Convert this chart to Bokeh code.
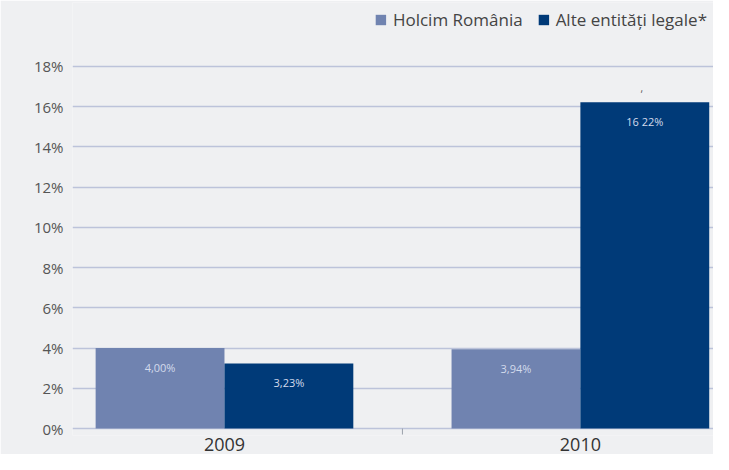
from bokeh.plotting import figure
from bokeh.models import ColumnDataSource, Range1d, FixedTicker, Legend, LegendItem
from bokeh.core.properties import value
from bokeh.embed import file_html
from bokeh.resources import INLINE

years = ["2009", "2010"]
holcim = [4.00, 3.94]
alte = [3.23, 16.22]
holcim_labels = ["4,00%", "3,94%"]
alte_labels = ["3,23%", "16 22%"]
y_ticks = [0, 2, 4, 6, 8, 10, 12, 14, 16, 18]
series_names = ["Holcim România", "Alte entități legale*"]

BG = "#eff0f2"
C1 = "#7083b0"
C2 = "#003a78"
GRID = "#bcc3da"
FONT = "Open Sans"

bw = 0.362
centers = [i + 0.5 for i in range(len(years))]
src = ColumnDataSource(dict(x1=[c - bw / 2 for c in centers],
                            x2=[c + bw / 2 for c in centers],
                            holcim=holcim, alte=alte,
                            hl=holcim_labels, al=alte_labels))

p = figure(width=713, height=454, output_backend="svg", toolbar_location=None,
           x_range=Range1d(0.073, 1.874),
           y_range=Range1d(-0.348, 21.18),
           background_fill_color=BG, border_fill_color=BG,
           min_border_left=72, min_border_right=0, min_border_top=2, min_border_bottom=19)
p.outline_line_color = None

r1 = p.vbar(x="x1", top="holcim", bottom=0, width=bw,
            source=src, fill_color=C1, line_color=None)
r2 = p.vbar(x="x2", top="alte", bottom=0, width=bw,
            source=src, fill_color=C2, line_color=None)

p.text(x="x1", y="holcim", text="hl", source=src,
       text_align="center", text_baseline="middle", y_offset=19,
       text_font=value(FONT), text_font_size="11px", text_color="#d3dbec")
p.text(x="x2", y="alte", text="al", source=src,
       text_align="center", text_baseline="middle", y_offset=19,
       text_font=value(FONT), text_font_size="11px", text_color="#d3dbec")

# stray comma printed above the 2010 bar in the original
p.text(x=[centers[1] + bw / 2], y=[alte[1]], text=[","], text_align="center",
       text_baseline="middle", x_offset=-3, y_offset=-14, text_font=value(FONT),
       text_font_size="10px", text_color="#555555")

# separator tick between categories
p.segment(x0=[1.0], y0=[0], x1=[1.0], y1=[-0.3], line_color="#9aa0aa", line_width=1)

p.xgrid.grid_line_color = None
p.ygrid.ticker = FixedTicker(ticks=y_ticks)
p.ygrid.grid_line_color = GRID
p.ygrid.grid_line_width = 1.6

p.yaxis.ticker = FixedTicker(ticks=y_ticks)
p.yaxis.major_label_overrides = {t: f"{t}%" for t in y_ticks}
p.yaxis.axis_line_color = None
p.yaxis.major_tick_line_color = None
p.yaxis.minor_tick_line_color = None
p.yaxis.major_tick_out = 0
p.yaxis.major_tick_in = 0
p.yaxis.major_label_standoff = 9
p.yaxis.major_label_text_font = FONT
p.yaxis.major_label_text_font_size = "15px"
p.yaxis.major_label_text_color = "#555555"

p.xaxis.ticker = FixedTicker(ticks=centers)
p.xaxis.major_label_overrides = {c: y for c, y in zip(centers, years)}
p.xaxis.axis_line_color = None
p.xaxis.major_tick_line_color = None
p.xaxis.minor_tick_line_color = None
p.xaxis.major_tick_out = 0
p.xaxis.major_tick_in = 0
p.xaxis.major_label_standoff = 2
p.xaxis.major_label_text_font = FONT
p.xaxis.major_label_text_font_size = "18px"
p.xaxis.major_label_text_color = "#333333"

legend = Legend(items=[LegendItem(label=series_names[0], renderers=[r1]),
                       LegendItem(label=series_names[1], renderers=[r2])],
                orientation="horizontal", location="top_right",
                background_fill_color=BG, background_fill_alpha=0, border_line_color=None,
                label_text_font=FONT, label_text_font_size="17px", label_text_color="#444444",
                glyph_width=13, glyph_height=13, label_standoff=6, spacing=14,
                padding=2, margin=6, label_height=20)
p.add_layout(legend, "center")

open("out.html", "w").write(file_html(p, INLINE))
